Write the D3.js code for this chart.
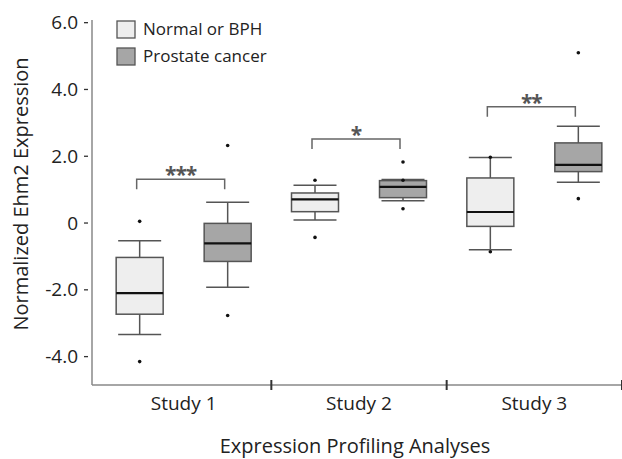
<!DOCTYPE html>
<html>
<head>
<meta charset="utf-8">
<script src="https://cdn.jsdelivr.net/npm/d3@7"></script>
<style>
  body { margin: 0; background: #fff; }
  text { font-family: "Open Sans", sans-serif; fill: #222; }
</style>
</head>
<body>
<div id="chart"></div>
<script>
var width = 622,
    height = 459;

// data
var studies = ["Study 1", "Study 2", "Study 3"];
var groups = ["Normal or BPH", "Prostate cancer"];

// [whiskerLow, q1, median, q3, whiskerHigh] per study
var normalBoxes = [
  [-3.34, -2.73, -2.10, -1.03, -0.53],
  [0.09, 0.34, 0.71, 0.90, 1.13],
  [-0.80, -0.10, 0.33, 1.35, 1.96]
];
var cancerBoxes = [
  [-1.92, -1.15, -0.61, -0.01, 0.62],
  [0.67, 0.76, 1.08, 1.27, 1.30],
  [1.22, 1.54, 1.74, 2.40, 2.90]
];
var normalOutliers = [[0.05, -4.15], [1.28, -0.43], [1.97, -0.86]];
var cancerOutliers = [[2.32, -2.77], [1.83, 0.43, 1.28], [5.10, 0.73]];

var bracketTops = [1.31, 2.52, 3.48];
var stars = ["***", "*", "**"];

var yTicks = [-4, -2, 0, 2, 4, 6];
var yTickLabels = ["-4.0", "-2.0", "0", "2.0", "4.0", "6.0"];

var colors = ["#eeeeee", "#a6a6a6"];

var svg = d3.select("#chart").append("svg")
    .attr("width", width)
    .attr("height", height);

var x = d3.scaleBand()
    .domain(studies)
    .range([96, 622]);

var y = d3.scaleLinear()
    .domain([-4.85, 6.08])
    .range([385, 20]);

var boxW = 47,
    capW = 43,
    offset = 44;

// axes
svg.append("line")
    .attr("x1", 92).attr("x2", 92)
    .attr("y1", y.range()[1]).attr("y2", y.range()[0])
    .style("stroke", "#888").style("stroke-width", 1.5);

svg.append("line")
    .attr("x1", 92).attr("x2", 622)
    .attr("y1", 385).attr("y2", 385)
    .style("stroke", "#888").style("stroke-width", 1.5);

svg.selectAll("line.ytick")
    .data(yTicks)
  .enter().append("line")
    .attr("class", "ytick")
    .attr("x1", 84).attr("x2", 88)
    .attr("y1", function(d) { return y(d); })
    .attr("y2", function(d) { return y(d); })
    .style("stroke", "#333").style("stroke-width", 1.3);

svg.selectAll("text.ylab")
    .data(yTicks)
  .enter().append("text")
    .attr("class", "ylab")
    .attr("x", 78)
    .attr("y", function(d) { return y(d); })
    .attr("dy", "0.35em")
    .attr("text-anchor", "end")
    .style("font-size", "19px")
    .text(function(d, i) { return yTickLabels[i]; });

// x ticks at the study boundaries
svg.selectAll("line.xtick")
    .data(studies)
  .enter().append("line")
    .attr("class", "xtick")
    .attr("x1", function(d) { return x(d) + x.bandwidth(); })
    .attr("x2", function(d) { return x(d) + x.bandwidth(); })
    .attr("y1", 380).attr("y2", 390)
    .style("stroke", "#333").style("stroke-width", 2);

svg.selectAll("text.xlab")
    .data(studies)
  .enter().append("text")
    .attr("class", "xlab")
    .attr("x", function(d) { return x(d) + x.bandwidth() / 2; })
    .attr("y", 410)
    .attr("text-anchor", "middle")
    .style("font-size", "19px")
    .text(function(d) { return d; });

svg.append("text")
    .attr("x", 355)
    .attr("y", 453)
    .attr("text-anchor", "middle")
    .style("font-size", "20px")
    .text("Expression Profiling Analyses");

svg.append("text")
    .attr("transform", "translate(28,194)rotate(-90)")
    .attr("text-anchor", "middle")
    .style("font-size", "20px")
    .text("Normalized Ehm2 Expression");

// boxes
function drawBoxes(boxes, outliers, gi) {
  var dx = gi == 0 ? -offset : offset;
  var g = svg.selectAll("g.box" + gi)
      .data(boxes)
    .enter().append("g")
      .attr("class", "box" + gi)
      .attr("transform", function(d, i) {
        return "translate(" + (x(studies[i]) + x.bandwidth() / 2 + dx) + ",0)";
      });

  g.append("line")
      .attr("x1", 0).attr("x2", 0)
      .attr("y1", function(d) { return y(d[0]); })
      .attr("y2", function(d) { return y(d[4]); })
      .style("stroke", "#555").style("stroke-width", 1.5);

  g.selectAll("line.cap")
      .data(function(d) { return [d[0], d[4]]; })
    .enter().append("line")
      .attr("class", "cap")
      .attr("x1", -capW / 2).attr("x2", capW / 2)
      .attr("y1", function(d) { return y(d); })
      .attr("y2", function(d) { return y(d); })
      .style("stroke", "#555").style("stroke-width", 1.5);

  g.append("rect")
      .attr("x", -boxW / 2)
      .attr("width", boxW)
      .attr("y", function(d) { return y(d[3]); })
      .attr("height", function(d) { return y(d[1]) - y(d[3]); })
      .style("fill", colors[gi])
      .style("stroke", "#555").style("stroke-width", 1.5);

  g.append("line")
      .attr("x1", -boxW / 2).attr("x2", boxW / 2)
      .attr("y1", function(d) { return y(d[2]); })
      .attr("y2", function(d) { return y(d[2]); })
      .style("stroke", "#111").style("stroke-width", 2.2);

  g.selectAll("circle")
      .data(function(d, i) { return outliers[i]; })
    .enter().append("circle")
      .attr("cx", 0)
      .attr("cy", function(d) { return y(d); })
      .attr("r", 1.8)
      .style("fill", "#111");
}

drawBoxes(normalBoxes, normalOutliers, 0);
drawBoxes(cancerBoxes, cancerOutliers, 1);

// significance brackets
var br = svg.selectAll("g.bracket")
    .data(bracketTops)
  .enter().append("g")
    .attr("class", "bracket");

br.append("path")
    .attr("d", function(d, i) {
      var c = x(studies[i]) + x.bandwidth() / 2,
          x0 = c - offset - 3, x1 = c + offset - 3,
          t = y(d);
      return "M" + x0 + "," + (t + 10) + "V" + t + "H" + x1 + "V" + (t + 10);
    })
    .style("fill", "none")
    .style("stroke", "#666").style("stroke-width", 1.5);

br.append("text")
    .attr("x", function(d, i) { return x(studies[i]) + x.bandwidth() / 2 - 3; })
    .attr("y", function(d) { return y(d) + 3; })
    .attr("text-anchor", "middle")
    .attr("letter-spacing", "-1px")
    .style("font-size", "21px")
    .style("font-weight", "bold")
    .style("fill", "#555")
    .text(function(d, i) { return stars[i]; });

// legend
var leg = svg.selectAll("g.legend")
    .data(groups)
  .enter().append("g")
    .attr("class", "legend")
    .attr("transform", function(d, i) { return "translate(117," + (21 + i * 27) + ")"; });

leg.append("rect")
    .attr("width", 18).attr("height", 17)
    .style("fill", function(d, i) { return colors[i]; })
    .style("stroke", "#555").style("stroke-width", 1.3);

leg.append("text")
    .attr("x", 26)
    .attr("y", 14)
    .style("font-size", "17px")
    .text(function(d) { return d; });
</script>
</body>
</html>
